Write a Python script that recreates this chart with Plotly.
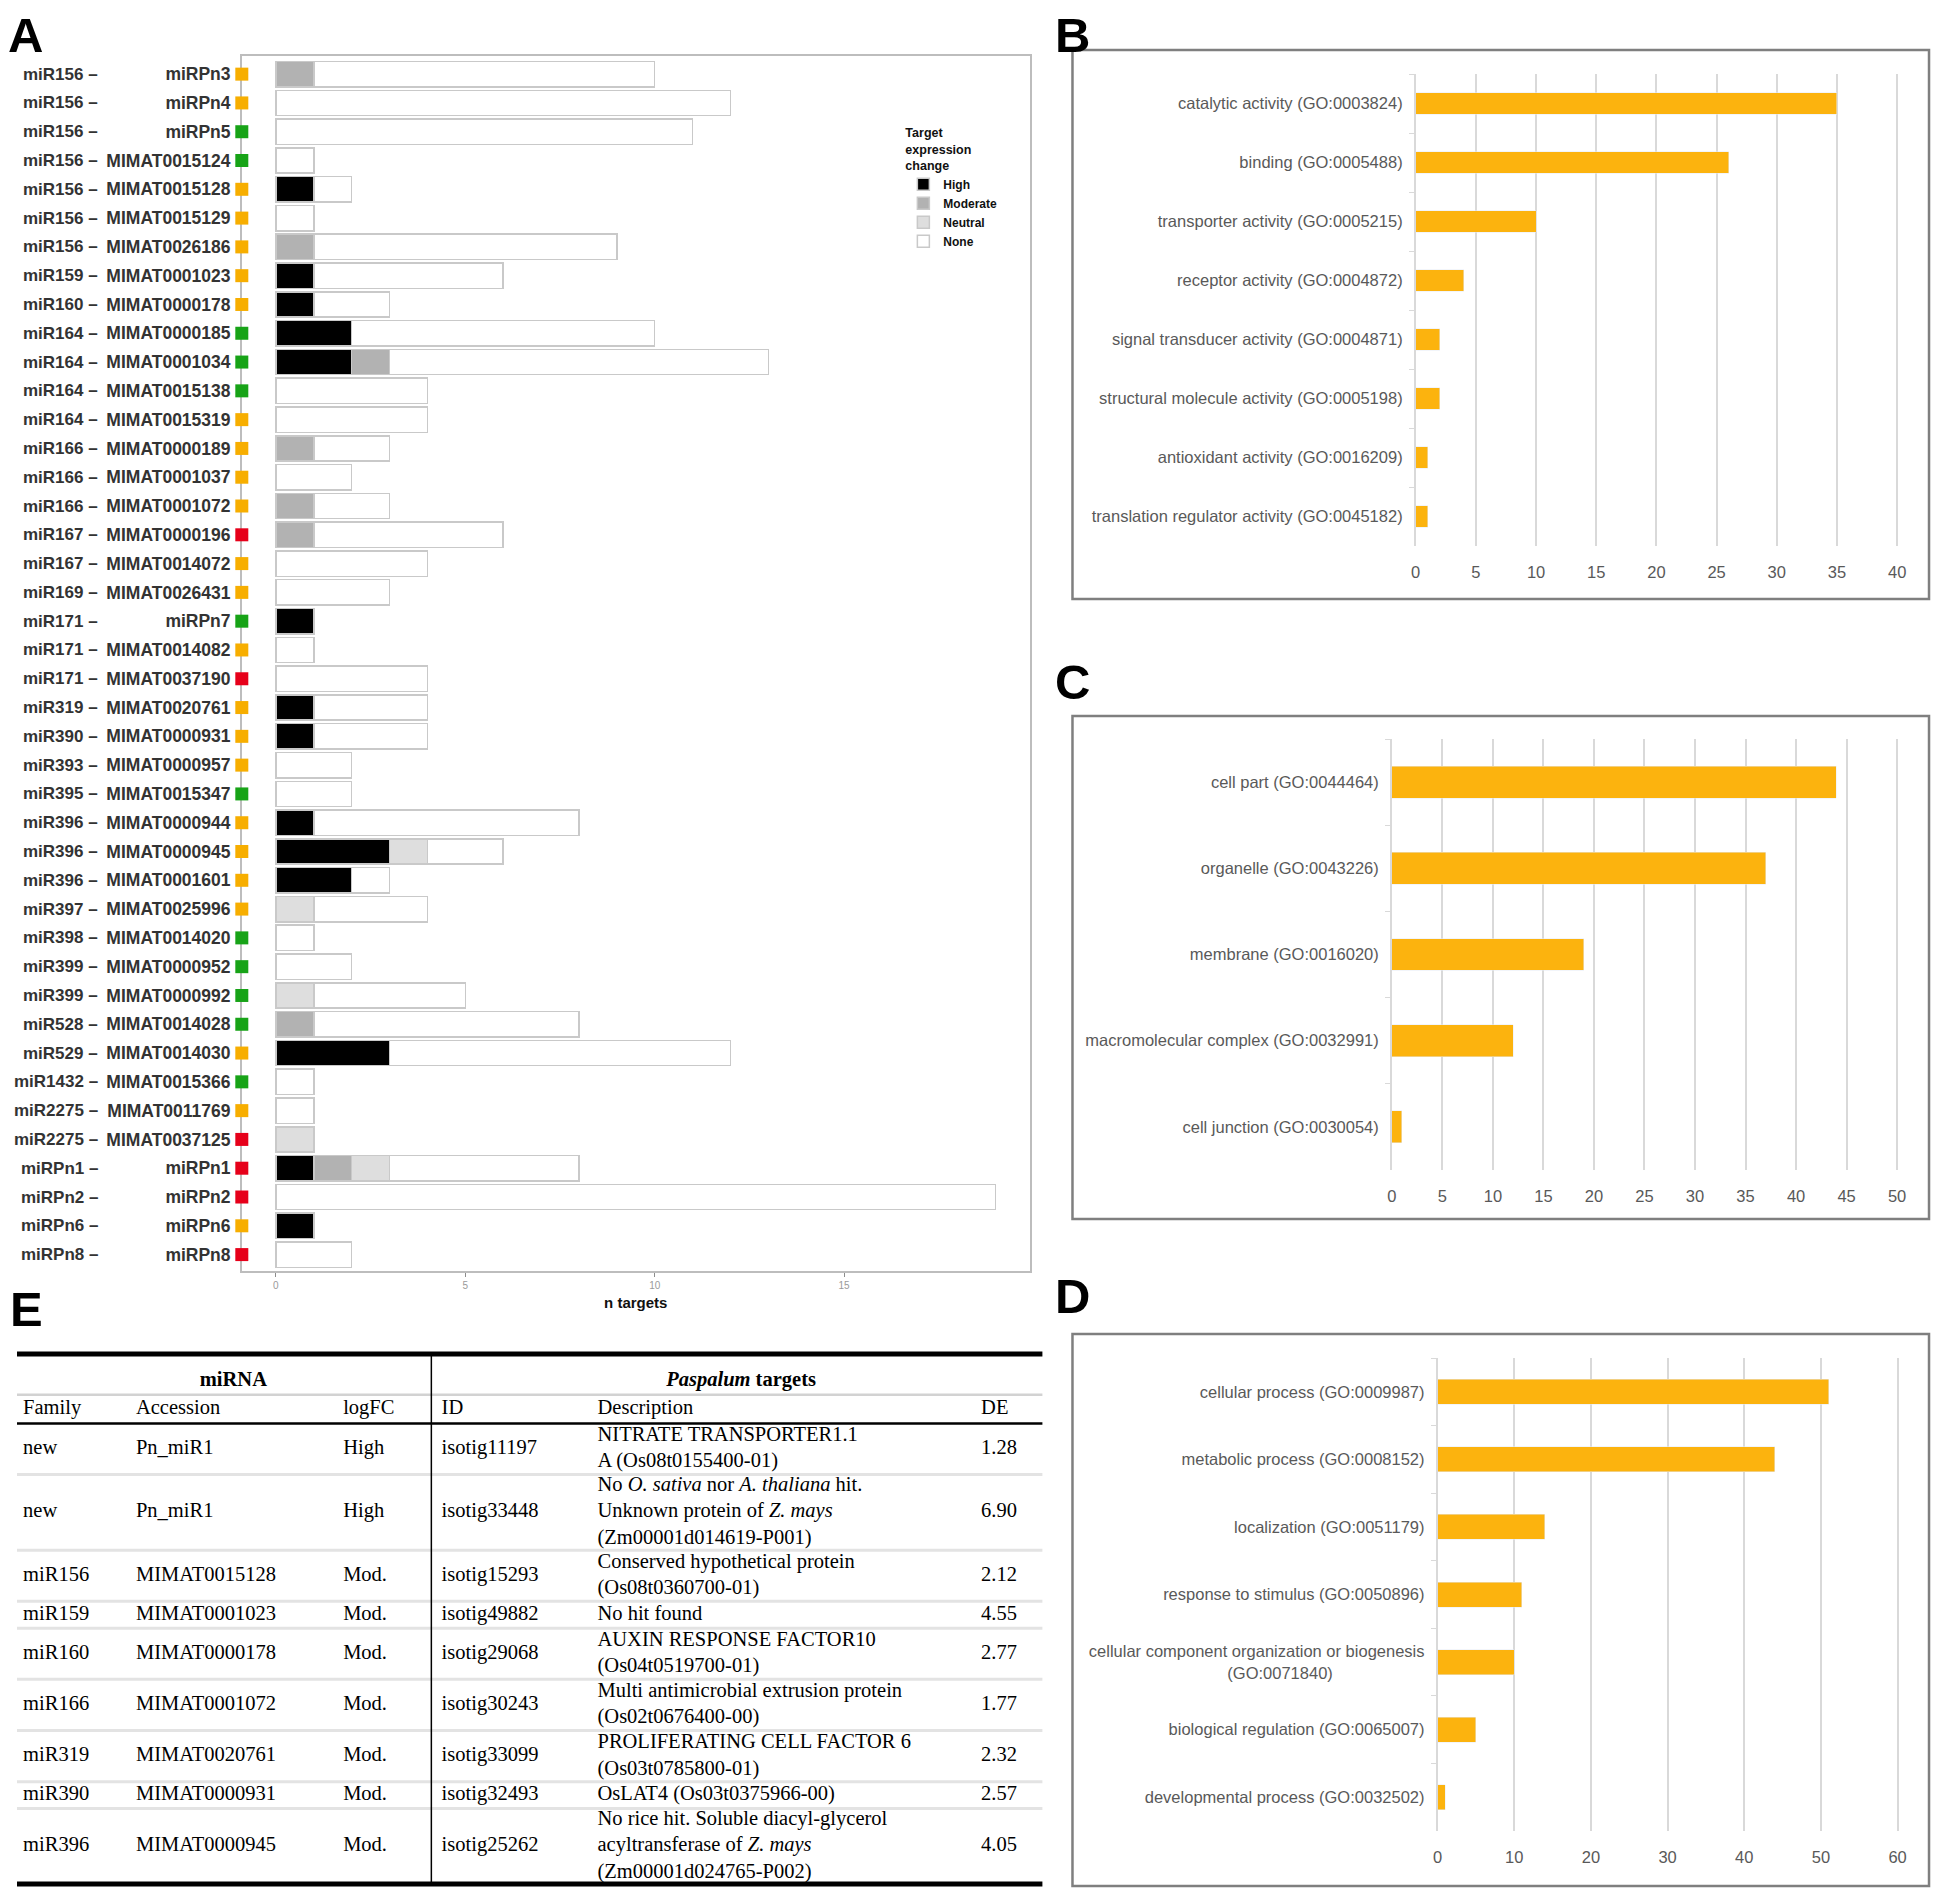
import plotly.graph_objects as go

# page body has an 8px margin, so the figure is drawn 16px smaller and positions are shifted
W, H = 1930, 1883
OFF = 8
SANS = "Liberation Sans, Arial, sans-serif"
NARROW = "Liberation Sans Narrow, Liberation Sans, sans-serif"
SERIF = "Liberation Serif, Times New Roman, serif"
GOLD = "#FCB30E"

# ---------------- panel A: miRNA -> targets
fam = ["miR156", "miR156", "miR156", "miR156", "miR156", "miR156", "miR156", "miR159", "miR160",
       "miR164", "miR164", "miR164", "miR164", "miR166", "miR166", "miR166", "miR167", "miR167",
       "miR169", "miR171", "miR171", "miR171", "miR319", "miR390", "miR393", "miR395", "miR396",
       "miR396", "miR396", "miR397", "miR398", "miR399", "miR399", "miR528", "miR529", "miR1432",
       "miR2275", "miR2275", "miRPn1", "miRPn2", "miRPn6", "miRPn8"]
acc = ["miRPn3", "miRPn4", "miRPn5", "MIMAT0015124", "MIMAT0015128", "MIMAT0015129", "MIMAT0026186",
       "MIMAT0001023", "MIMAT0000178", "MIMAT0000185", "MIMAT0001034", "MIMAT0015138", "MIMAT0015319",
       "MIMAT0000189", "MIMAT0001037", "MIMAT0001072", "MIMAT0000196", "MIMAT0014072", "MIMAT0026431",
       "miRPn7", "MIMAT0014082", "MIMAT0037190", "MIMAT0020761", "MIMAT0000931", "MIMAT0000957",
       "MIMAT0015347", "MIMAT0000944", "MIMAT0000945", "MIMAT0001601", "MIMAT0025996", "MIMAT0014020",
       "MIMAT0000952", "MIMAT0000992", "MIMAT0014028", "MIMAT0014030", "MIMAT0015366", "MIMAT0011769",
       "MIMAT0037125", "miRPn1", "miRPn2", "miRPn6", "miRPn8"]
n_high = [0, 0, 0, 0, 1, 0, 0, 1, 1, 2, 2, 0, 0, 0, 0, 0, 0, 0, 0, 1, 0, 0, 1, 1, 0, 0, 1,
          3, 2, 0, 0, 0, 0, 0, 3, 0, 0, 0, 1, 0, 1, 0]
n_moderate = [1, 0, 0, 0, 0, 0, 1, 0, 0, 0, 1, 0, 0, 1, 0, 1, 1, 0, 0, 0, 0, 0, 0, 0, 0, 0, 0,
              0, 0, 0, 0, 0, 0, 1, 0, 0, 0, 0, 1, 0, 0, 0]
n_neutral = [0, 0, 0, 0, 0, 0, 0, 0, 0, 0, 0, 0, 0, 0, 0, 0, 0, 0, 0, 0, 0, 0, 0, 0, 0, 0, 0,
             1, 0, 1, 0, 0, 1, 0, 0, 0, 0, 1, 1, 0, 0, 0]
n_none = [9, 12, 11, 1, 1, 1, 8, 5, 2, 8, 10, 4, 4, 2, 2, 2, 5, 4, 3, 0, 1, 4, 3, 3, 2, 2, 7,
          2, 1, 3, 1, 2, 4, 7, 9, 1, 1, 0, 5, 19, 0, 2]
mirna_status = ["o", "o", "g", "g", "o", "o", "o", "o", "o", "g", "g", "g", "o", "o", "o", "o", "r", "o",
                "o", "g", "o", "r", "o", "o", "o", "g", "o", "o", "o", "o", "g", "g", "g", "g", "o", "g",
                "o", "r", "r", "r", "o", "r"]
status_colors = {"o": "#F7AE00", "g": "#17A317", "r": "#E6001A"}
expr_levels = ["High", "Moderate", "Neutral", "None"]
expr_colors = ["#000000", "#B2B2B2", "#DEDEDE", "#FFFFFF"]

# ---------------- panels B-D: GO terms
mf_terms = ["catalytic activity (GO:0003824)", "binding (GO:0005488)", "transporter activity (GO:0005215)",
            "receptor activity (GO:0004872)", "signal transducer activity (GO:0004871)",
            "structural molecule activity (GO:0005198)", "antioxidant activity (GO:0016209)",
            "translation regulator activity (GO:0045182)"]
mf_counts = [35, 26, 10, 4, 2, 2, 1, 1]
cc_terms = ["cell part (GO:0044464)", "organelle (GO:0043226)", "membrane (GO:0016020)",
            "macromolecular complex (GO:0032991)", "cell junction (GO:0030054)"]
cc_counts = [44, 37, 19, 12, 1]
bp_terms = ["cellular process (GO:0009987)", "metabolic process (GO:0008152)", "localization (GO:0051179)",
            "response to stimulus (GO:0050896)",
            "cellular component organization or biogenesis<br>(GO:0071840)" + "\u00a0" * 20,
            "biological regulation (GO:0065007)", "developmental process (GO:0032502)"]
bp_counts = [51, 44, 14, 11, 10, 5, 1]

# ---------------- panel E: table
e_family = ["new", "new", "miR156", "miR159", "miR160", "miR166", "miR319", "miR390", "miR396"]
e_accession = ["Pn_miR1", "Pn_miR1", "MIMAT0015128", "MIMAT0001023", "MIMAT0000178", "MIMAT0001072",
               "MIMAT0020761", "MIMAT0000931", "MIMAT0000945"]
e_logfc = ["High", "High", "Mod.", "Mod.", "Mod.", "Mod.", "Mod.", "Mod.", "Mod."]
e_id = ["isotig11197", "isotig33448", "isotig15293", "isotig49882", "isotig29068", "isotig30243",
        "isotig33099", "isotig32493", "isotig25262"]
e_desc = ["NITRATE TRANSPORTER1.1<br>A (Os08t0155400-01)",
          "No <i>O. sativa</i> nor <i>A. thaliana</i> hit.<br>Unknown protein of <i>Z. mays</i><br>(Zm00001d014619-P001)",
          "Conserved hypothetical protein<br>(Os08t0360700-01)",
          "No hit found",
          "AUXIN RESPONSE FACTOR10<br>(Os04t0519700-01)",
          "Multi antimicrobial extrusion protein<br>(Os02t0676400-00)",
          "PROLIFERATING CELL FACTOR 6<br>(Os03t0785800-01)",
          "OsLAT4 (Os03t0375966-00)",
          "No rice hit. Soluble diacyl-glycerol<br>acyltransferase of <i>Z. mays</i><br>(Zm00001d024765-P002)"]
e_de = [1.28, 6.90, 2.12, 4.55, 2.77, 1.77, 2.32, 2.57, 4.05]
e_headers = ["Family", "Accession", "logFC", "ID", "Description", "DE"]


def fx(p):
    return (p - OFF) / W


def fy(p):
    return 1 - (p - OFF) / H


fig = go.Figure()

# ---- A
rows = list(range(len(acc)))
xa_range = [-0.9, 19.9]
for name, vals, col in zip(expr_levels, [n_high, n_moderate, n_neutral, n_none], expr_colors):
    fig.add_trace(go.Bar(y=rows, x=vals, orientation="h", name="<b>" + name + "</b>", width=0.88,
                         marker=dict(color=col, line=dict(color="#C9C9C9", width=1.5)),
                         xaxis="x", yaxis="y"))
fig.add_trace(go.Scatter(x=[xa_range[0]] * len(rows), y=rows, mode="markers",
                         marker=dict(symbol="square", size=13, color=[status_colors[s] for s in mirna_status]),
                         cliponaxis=False, showlegend=False, hoverinfo="skip", xaxis="x", yaxis="y"))

# ---- B, C, D
for ax, terms, counts in [("2", mf_terms, mf_counts), ("3", cc_terms, cc_counts), ("4", bp_terms, bp_counts)]:
    fig.add_trace(go.Bar(y=terms, x=counts, orientation="h", width=0.37, marker=dict(color=GOLD),
                         showlegend=False, xaxis="x" + ax, yaxis="y" + ax))

# ---- E table
hdr_h = [1.68, 1.17]
hdr_text_y = [1.12, 2.24]
row_lines = [d.count("<br>") + 1 for d in e_desc]
row_h = [n + 0.1 for n in row_lines]
top = sum(hdr_h)
bounds = [top]
centers = []
for h in row_h:
    centers.append(bounds[-1] + h / 2)
    bounds.append(bounds[-1] + h)
total = bounds[-1]

col_x = [0.006, 0.116, 0.318, 0.414, 0.566, 0.940]
div_x = 0.404
cols = [e_family, e_accession, e_logfc, e_id, e_desc, [f"{v:.2f}" for v in e_de]]
tfont = dict(family=SERIF, size=20.5, color="#000000")
for cx, vals in zip(col_x, cols):
    fig.add_trace(go.Scatter(x=[cx] * len(vals), y=centers, mode="text", text=vals,
                             textposition="middle right", textfont=tfont, cliponaxis=False,
                             showlegend=False, hoverinfo="skip", xaxis="x5", yaxis="y5"))
fig.add_trace(go.Scatter(x=col_x, y=[hdr_text_y[1]] * len(col_x), mode="text", text=e_headers,
                         textposition="middle right", textfont=tfont, cliponaxis=False,
                         showlegend=False, hoverinfo="skip", xaxis="x5", yaxis="y5"))
fig.add_trace(go.Scatter(x=[0.211, 0.706], y=[hdr_text_y[0]] * 2, mode="text",
                         text=["<b>miRNA</b>", "<b><i>Paspalum</i> targets</b>"],
                         textposition="middle center", textfont=tfont, cliponaxis=False,
                         showlegend=False, hoverinfo="skip", xaxis="x5", yaxis="y5"))

shapes = []
shapes.append(dict(type="line", xref="x5", yref="y5", x0=0, x1=1, y0=0, y1=0, line=dict(color="black", width=5)))
shapes.append(dict(type="line", xref="x5", yref="y5", x0=0, x1=1, y0=hdr_h[0], y1=hdr_h[0],
                   line=dict(color="#D2D2D2", width=2.5)))
shapes.append(dict(type="line", xref="x5", yref="y5", x0=0, x1=1, y0=top, y1=top, line=dict(color="black", width=2.5)))
for b in bounds[1:-1]:
    shapes.append(dict(type="line", xref="x5", yref="y5", x0=0, x1=1, y0=b, y1=b, line=dict(color="#E3E3E3", width=3)))
shapes.append(dict(type="line", xref="x5", yref="y5", x0=0, x1=1, y0=total, y1=total, line=dict(color="black", width=5)))
shapes.append(dict(type="line", xref="x5", yref="y5", x0=div_x, x1=div_x, y0=0, y1=total,
                   line=dict(color="black", width=1.5)))

# panel frames B-D
for top_px, bot_px in [(50, 599), (716, 1219), (1334, 1886)]:
    shapes.append(dict(type="rect", xref="paper", yref="paper", x0=fx(1073), x1=fx(1934),
                       y0=fy(bot_px), y1=fy(top_px), line=dict(color="#7F7F7F", width=2.5), layer="below"))

annotations = []
# miRNA family part of the row labels
for r, f in zip(rows, fam):
    annotations.append(dict(text="<b>" + f + " \u2013</b>", x=fx(95), y=r, xref="paper", yref="y",
                            xanchor="right", yanchor="middle", showarrow=False,
                            font=dict(family=SANS, size=17, color="#333333")))
# panel letters
for letter, xp, yp in [("A", 3, 8), ("B", 1055, 8), ("C", 1055, 655), ("D", 1055, 1269), ("E", 5, 1282)]:
    annotations.append(dict(text="<b>" + letter + "</b>", x=fx(xp), y=fy(yp), xref="paper", yref="paper",
                            xanchor="left", yanchor="top", showarrow=False, borderpad=0, borderwidth=0,
                            font=dict(family=SANS, size=49, color="black")))

go_tick = dict(family=NARROW, size=16.5, color="#595959")


def go_axes(xdom, ydom, ax, xmax, dtick, n):
    xa = dict(domain=xdom, anchor="y" + ax, range=[0, xmax], dtick=dtick, tick0=0, showgrid=True,
              gridcolor="#D9D9D9", gridwidth=1.5, zeroline=False, showline=False, ticks="",
              tickfont=go_tick, ticklabelstandoff=14)
    ya = dict(domain=ydom, anchor="x" + ax, type="category", range=[n - 0.5, -0.5], showline=True,
              linecolor="#D9D9D9", linewidth=1.5, ticks="outside", tickson="boundaries", ticklen=5,
              tickcolor="#D9D9D9", showgrid=False, zeroline=False, tickfont=go_tick, ticklabelstandoff=8)
    return xa, ya


xa2, ya2 = go_axes([fx(1418), fx(1908)], [fy(546), fy(74)], "2", 40.5, 5, len(mf_terms))
xa3, ya3 = go_axes([fx(1394), fx(1907)], [fy(1170), fy(739)], "3", 50.5, 5, len(cc_terms))
xa4, ya4 = go_axes([fx(1440), fx(1907)], [fy(1831), fy(1358)], "4", 60.6, 10, len(bp_terms))

fig.update_layout(
    width=W, height=H, margin=dict(l=0, r=0, t=0, b=0),
    paper_bgcolor="white", plot_bgcolor="white", barmode="stack",
    font=dict(family=SANS),
    xaxis=dict(domain=[fx(238), fx(1030)], anchor="y", range=xa_range, tickvals=[0, 5, 10, 15],
               ticks="outside", ticklen=4, tickcolor="#8C8C8C", tickfont=dict(size=10, color="#9A9A9A"),
               showline=True, linecolor="#BDBDBD", linewidth=1.5, mirror=True, showgrid=False, zeroline=False,
               title=dict(text="<b>n targets</b>", font=dict(size=15, color="#111111"), standoff=8)),
    yaxis=dict(domain=[fy(1271), fy(56)], anchor="x", range=[41.57, -0.63], tickvals=rows,
               ticktext=["<b>" + a + "</b>" for a in acc], tickfont=dict(size=17.5, color="#333333"),
               showline=True, linecolor="#BDBDBD", linewidth=1.5, mirror=True, showgrid=False,
               zeroline=False, ticks="", ticklabelstandoff=6, layer="below traces"),
    xaxis2=xa2, yaxis2=ya2, xaxis3=xa3, yaxis3=ya3, xaxis4=xa4, yaxis4=ya4,
    xaxis5=dict(domain=[fx(12), fx(1043)], anchor="y5", range=[0, 1], visible=False),
    yaxis5=dict(domain=[fy(1887), fy(1351)], anchor="x5", range=[total + 0.12, -0.12], visible=False),
    legend=dict(x=fx(903), y=fy(121), xanchor="left", yanchor="top", bgcolor="rgba(0,0,0,0)",
                traceorder="normal",
                title=dict(text="<b>Target<br>expression<br>change</b>", font=dict(size=12.5, color="#111111")),
                font=dict(size=12, color="#111111"), itemwidth=30, tracegroupgap=0),
    shapes=shapes, annotations=annotations,
)

fig.write_html("out.html")
